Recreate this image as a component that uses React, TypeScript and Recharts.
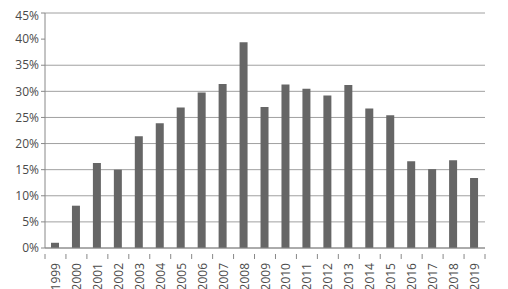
import { BarChart, Bar, XAxis, YAxis, CartesianGrid } from "recharts";

const years = [
	"1999", "2000", "2001", "2002", "2003", "2004", "2005", "2006", "2007", "2008", "2009",
	"2010", "2011", "2012", "2013", "2014", "2015", "2016", "2017", "2018", "2019",
];
const shares = [
	1.0, 8.1, 16.3, 15.0, 21.4, 23.9, 26.9, 29.8, 31.4, 39.4, 27.0,
	31.3, 30.5, 29.2, 31.2, 26.7, 25.4, 16.6, 15.1, 16.8, 13.4,
];
const yTicks = [0, 5, 10, 15, 20, 25, 30, 35, 40, 45];

const data = years.map((year, i) => ({ year, share: shares[i] }));

const W = 500;
const H = 281;
const LEFT = 37;
const RIGHT = 23;
const halfBand = (W - LEFT - RIGHT) / years.length / 2;

// Excel-style ticks sit between categories, labels turned on their side
const YearTick = (props: any) => {
	const { x, y, payload, index } = props;
	return (
		<g>
			<line x1={x + halfBand} y1={y - 9} x2={x + halfBand} y2={y - 4} stroke="#888" />
			{index === 0 && (
				<line x1={x - halfBand} y1={y - 9} x2={x - halfBand} y2={y - 4} stroke="#888" />
			)}
			<text
				x={x}
				y={y}
				transform={`rotate(-90, ${x}, ${y})`}
				textAnchor="end"
				dominantBaseline="central"
				fontSize={12}
				fill="#4a4a4a"
			>
				{payload.value}
			</text>
		</g>
	);
};

export default function App() {
	return (
		<BarChart
			width={W}
			height={H}
			data={data}
			margin={{ top: 5, right: RIGHT, left: 0, bottom: 0 }}
			barSize={8}
			style={{ fontFamily: "'Open Sans', sans-serif" }}
		>
			<CartesianGrid vertical={false} stroke="#a0a0a0" />
			<XAxis
				dataKey="year"
				interval={0}
				height={41}
				axisLine={{ stroke: "#888" }}
				tickLine={false}
				tick={<YearTick />}
				tickMargin={9}
			/>
			<YAxis
				width={LEFT}
				domain={[0, 45]}
				ticks={yTicks}
				tickFormatter={(v) => `${v}%`}
				axisLine={{ stroke: "#888" }}
				tickLine={{ stroke: "#888" }}
				tickSize={4}
				tick={{ fontSize: 12, fill: "#4a4a4a" }}
			/>
			<Bar dataKey="share" fill="#666666" isAnimationActive={false} />
		</BarChart>
	);
}
